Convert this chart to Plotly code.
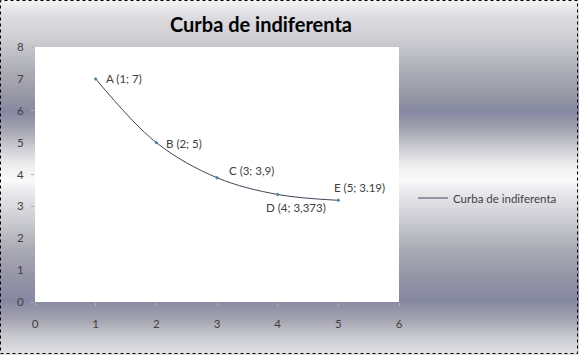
import plotly.graph_objects as go

# ---- data ----
x_vals = [1, 2, 3, 4, 5]
y_vals = [7, 5, 3.9, 3.373, 3.19]
point_labels = ["A (1; 7)", "B (2; 5)", "C (3; 3,9)", "D (4; 3,373)", "E (5; 3.19)"]
series_name = "Curba de indiferenta"
chart_title = "Curba de indiferenta"
x_ticks = [0, 1, 2, 3, 4, 5, 6]
y_ticks = [0, 1, 2, 3, 4, 5, 6, 7, 8]

# ---- geometry (pixels) ----
W, H = 579, 355
L, R, T, B = 35, 180, 47, 53
PW, PH = W - L - R, H - T - B

def px_to_paper_x(px):
    return (px - L) / PW

def px_to_paper_y(py):
    return (H - B - py) / PH

font_family = "Lato, 'Open Sans', sans-serif"
txt_color = "#404040"
line_color = "#3f4656"

fig = go.Figure()
fig.add_trace(go.Scatter(
    x=x_vals, y=y_vals, mode="lines+markers", name=series_name,
    line=dict(color=line_color, width=1, shape="spline", smoothing=1),
    marker=dict(size=3, color="#4a86a8", symbol="diamond"),
    showlegend=False, legendgroup="s",
))
# legend entry: line only
fig.add_trace(go.Scatter(
    x=[None], y=[None], mode="lines", name=series_name,
    line=dict(color=line_color, width=1), showlegend=True, legendgroup="s",
    hoverinfo="skip",
))

# label offsets (style)
offsets = [
    dict(xanchor="left", xshift=8, yshift=0),
    dict(xanchor="left", xshift=8, yshift=-1),
    dict(xanchor="left", xshift=10, yshift=7),
    dict(xanchor="left", xshift=-14, yshift=-13),
    dict(xanchor="left", xshift=-6, yshift=13),
]
annotations = []
for xv, yv, lab, off in zip(x_vals, y_vals, point_labels, offsets):
    annotations.append(dict(
        x=xv, y=yv, xref="x", yref="y", text=lab, showarrow=False,
        yanchor="middle", font=dict(family=font_family, size=11.5, color=txt_color),
        **off))

# background gradient bands (style)
stops = [
    (0, (244, 244, 244)), (15, (222, 222, 226)), (40, (204, 204, 210)),
    (70, (174, 174, 184)), (95, (152, 152, 166)), (112, (134, 136, 162)),
    (125, (156, 156, 172)), (145, (198, 198, 206)), (165, (238, 238, 240)),
    (180, (250, 250, 250)), (195, (230, 230, 234)), (220, (204, 204, 210)),
    (250, (170, 170, 180)), (280, (146, 146, 166)), (300, (134, 136, 162)),
    (318, (160, 160, 174)), (335, (198, 198, 206)), (355, (226, 226, 230)),
]

def color_at(py):
    for (y0, c0), (y1, c1) in zip(stops[:-1], stops[1:]):
        if y0 <= py <= y1:
            t = (py - y0) / (y1 - y0) if y1 > y0 else 0
            c = [round(a + (b - a) * t) for a, b in zip(c0, c1)]
            return "rgb(%d,%d,%d)" % tuple(c)
    return "rgb(226,226,230)"

shapes = []
step = 2
for py in range(0, H, step):
    shapes.append(dict(
        type="rect", xref="paper", yref="paper", layer="below",
        x0=px_to_paper_x(0), x1=px_to_paper_x(W),
        y0=px_to_paper_y(py + step), y1=px_to_paper_y(py),
        fillcolor=color_at(py + step / 2), line=dict(width=0)))
# white plot area on top of gradient
shapes.append(dict(type="rect", xref="paper", yref="paper", layer="below",
                   x0=0, x1=1, y0=0, y1=1, fillcolor="white", line=dict(width=0)))
# dotted outer border
shapes.append(dict(type="rect", xref="paper", yref="paper", layer="above",
                   x0=px_to_paper_x(0.5), x1=px_to_paper_x(W - 1.5),
                   y0=px_to_paper_y(H - 1.5), y1=px_to_paper_y(0.5),
                   line=dict(color="black", width=1, dash="dot")))

axis_common = dict(
    showgrid=False, zeroline=False, showline=False,
    ticks="outside", ticklen=3, tickcolor="#b0b0b0",
    tickfont=dict(family=font_family, size=11.5, color=txt_color),
)

fig.update_layout(
    width=W, height=H,
    margin=dict(l=L, r=R, t=T, b=B, pad=0),
    paper_bgcolor="white", plot_bgcolor="white",
    title=dict(text="<b>%s</b>" % chart_title, x=261 / W,
               xanchor="center", y=1 - 25 / H, yanchor="middle",
               font=dict(family=font_family, size=20, color="black")),
    xaxis=dict(range=[0, 6], tickvals=x_ticks, ticklabelstandoff=8, **axis_common),
    yaxis=dict(range=[0, 8], tickvals=y_ticks, ticklabelstandoff=5, **axis_common),
    legend=dict(x=px_to_paper_x(413), xanchor="left", y=px_to_paper_y(198),
                yanchor="middle", bgcolor="rgba(0,0,0,0)",
                font=dict(family=font_family, size=11.5, color=txt_color)),
    annotations=annotations,
    shapes=shapes,
)

fig.write_html("out.html")
